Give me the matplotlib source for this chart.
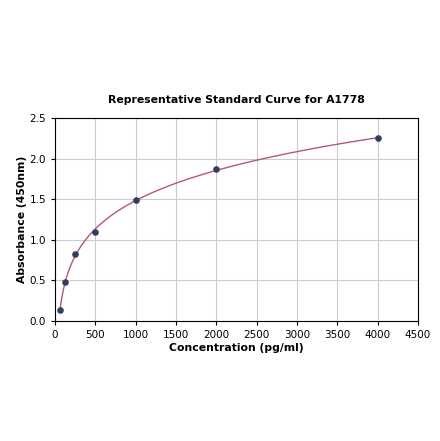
import numpy as np
import matplotlib
matplotlib.use("Agg")
import matplotlib.pyplot as plt

conc = np.array([62.5, 125, 250, 500, 1000, 2000, 4000])
absorb = np.array([0.14, 0.48, 0.82, 1.10, 1.49, 1.87, 2.25])

xticks = [0, 500, 1000, 1500, 2000, 2500, 3000, 3500, 4000, 4500]
yticks = [0.0, 0.5, 1.0, 1.5, 2.0, 2.5]

# smooth fit through the standards (cubic in log concentration)
coef = np.polyfit(np.log(conc), absorb, 3)
xs = np.linspace(conc.min(), conc.max(), 400)
ys = np.polyval(coef, np.log(xs))

fig = plt.figure(figsize=(4.4, 4.41), dpi=100)
ax = fig.add_axes([0.125, 0.272, 0.825, 0.4605])

ax.plot(xs, ys, color="#b5577a", lw=1.0, zorder=2)
ax.scatter(conc, absorb, s=14, color="#343c62", zorder=3)

ax.set_xlim(0, 4500)
ax.set_ylim(0, 2.5)
ax.set_xticks(xticks)
ax.set_yticks(yticks)
ax.tick_params(labelsize=7.5, length=3)
ax.grid(True, color="#cccccc", lw=0.8)
ax.set_axisbelow(True)

ax.set_title("Representative Standard Curve for A1778", fontsize=7.8,
             fontweight="bold", pad=11)
ax.set_xlabel("Concentration (pg/ml)", fontsize=7.8, fontweight="bold", labelpad=2)
ax.set_ylabel("Absorbance (450nm)", fontsize=7.8, fontweight="bold", labelpad=2)

fig.savefig("out.png", dpi=100)
